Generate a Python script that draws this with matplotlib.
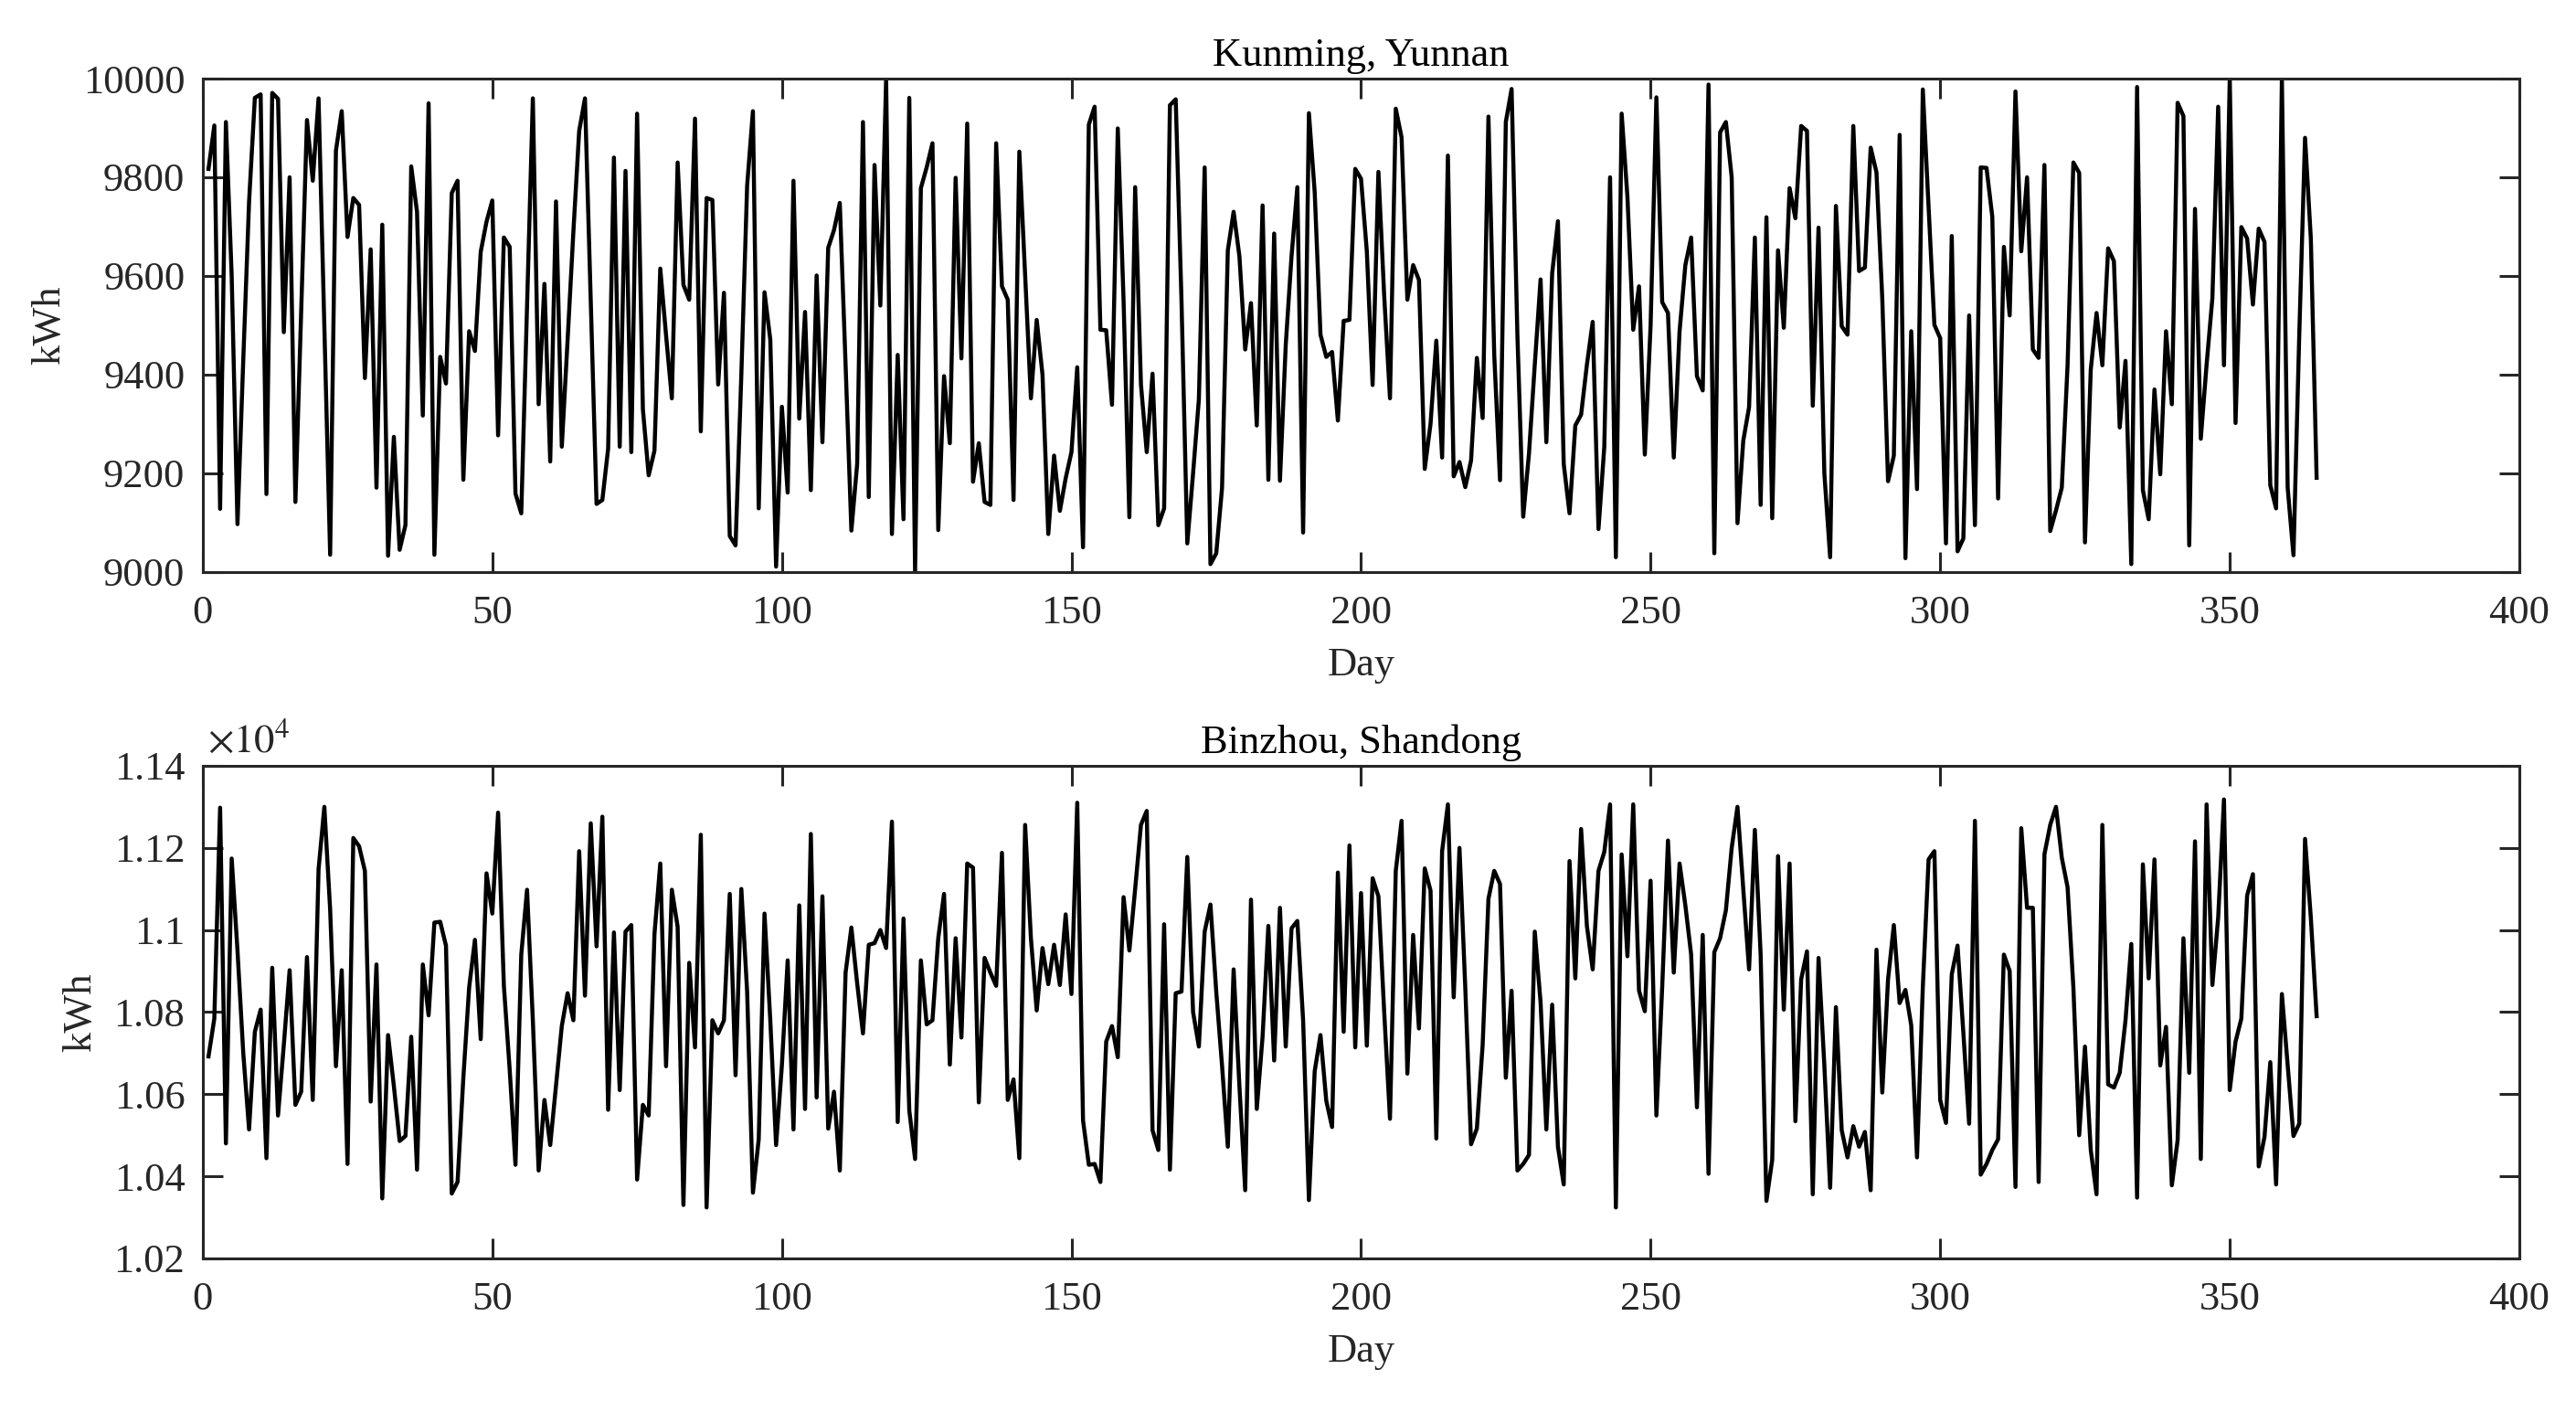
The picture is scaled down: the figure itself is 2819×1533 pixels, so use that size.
"""Daily electricity load for two sites, one panel per site."""

import matplotlib
matplotlib.use("Agg")
import matplotlib.pyplot as plt
from matplotlib.ticker import FuncFormatter, MultipleLocator
import numpy as np

# Kunming, Yunnan: daily load (kWh), days 1..365
kunming_kwh = [
    9817, 9905, 9128, 9912, 9600, 9097, 9430, 9750, 9961, 9968,
    9158, 9971, 9959, 9486, 9800, 9142, 9530, 9916, 9793, 9960,
    9500, 9035, 9854, 9934, 9679, 9758, 9744, 9393, 9654, 9171,
    9704, 9033, 9274, 9045, 9095, 9822, 9730, 9317, 9950, 9035,
    9436, 9382, 9768, 9793, 9187, 9488, 9448, 9649, 9710, 9753,
    9277, 9678, 9659, 9159, 9119, 9540, 9960, 9340, 9584, 9224,
    9751, 9254, 9470, 9690, 9894, 9960, 9550, 9138, 9146, 9250,
    9840, 9254, 9813, 9243, 9929, 9330, 9196, 9246, 9615, 9480,
    9352, 9830, 9582, 9552, 9919, 9285, 9758, 9754, 9380, 9566,
    9073, 9054, 9400, 9783, 9934, 9129, 9567, 9471, 9011, 9335,
    9161, 9793, 9311, 9527, 9166, 9601, 9263, 9657, 9693, 9748,
    9420, 9084, 9219, 9912, 9152, 9825, 9540, 10000, 9077, 9440,
    9107, 9961, 9000, 9778, 9820, 9869, 9085, 9397, 9261, 9799,
    9433, 9909, 9183, 9261, 9142, 9136, 9869, 9579, 9552, 9146,
    9852, 9600, 9352, 9511, 9400, 9077, 9236, 9124, 9190, 9243,
    9415, 9050, 9907, 9943, 9491, 9490, 9339, 9899, 9550, 9111,
    9780, 9380, 9243, 9402, 9095, 9129, 9946, 9958, 9550, 9058,
    9200, 9350, 9820, 9016, 9038, 9170, 9652, 9730, 9640, 9451,
    9545, 9297, 9743, 9187, 9686, 9185, 9460, 9640, 9780, 9080,
    9930, 9770, 9481, 9436, 9446, 9307, 9509, 9511, 9817, 9797,
    9650, 9379, 9811, 9560, 9352, 9939, 9881, 9552, 9622, 9592,
    9209, 9300, 9469, 9232, 9844, 9194, 9223, 9172, 9226, 9434,
    9312, 9923, 9440, 9186, 9912, 9979, 9480, 9112, 9240, 9420,
    9593, 9263, 9605, 9711, 9219, 9119, 9297, 9319, 9420, 9507,
    9087, 9253, 9800, 9030, 9929, 9760, 9491, 9579, 9238, 9500,
    9962, 9547, 9525, 9232, 9488, 9622, 9678, 9397, 9368, 9988,
    9038, 9891, 9912, 9800, 9099, 9266, 9334, 9678, 9136, 9719,
    9109, 9652, 9495, 9778, 9717, 9904, 9894, 9337, 9698, 9200,
    9030, 9742, 9498, 9481, 9904, 9610, 9617, 9860, 9810, 9555,
    9184, 9236, 9886, 9028, 9488, 9168, 9978, 9740, 9501, 9474,
    9058, 9681, 9042, 9068, 9520, 9095, 9820, 9819, 9720, 9149,
    9659, 9520, 9974, 9650, 9800, 9451, 9434, 9825, 9083, 9125,
    9171, 9420, 9830, 9809, 9060, 9410, 9525, 9419, 9656, 9630,
    9293, 9428, 9016, 9983, 9166, 9107, 9370, 9198, 9488, 9340,
    9951, 9924, 9054, 9736, 9270, 9420, 9555, 9943, 9419, 10000,
    9302, 9699, 9676, 9542, 9696, 9669, 9176, 9129, 10000, 9171,
    9034, 9480, 9880, 9676, 9191,
]

# Binzhou, Shandong: daily load (kWh), days 1..365
binzhou_kwh = [
    10692, 10784, 11298, 10480, 11174, 10950, 10700, 10514, 10752, 10806,
    10444, 10908, 10548, 10720, 10902, 10574, 10606, 10934, 10586, 11148,
    11300, 11050, 10668, 10902, 10430, 11224, 11204, 11144, 10582, 10916,
    10346, 10744, 10620, 10486, 10498, 10740, 10416, 10916, 10792, 11018,
    11020, 10962, 10358, 10386, 10640, 10860, 10976, 10734, 11138, 11040,
    11286, 10864, 10660, 10428, 10940, 11098, 10780, 10414, 10586, 10476,
    10620, 10766, 10846, 10780, 11192, 10840, 11260, 10960, 11276, 10562,
    10994, 10610, 10996, 11012, 10392, 10574, 10548, 10990, 11162, 10668,
    11098, 11008, 10330, 10920, 10714, 11232, 10324, 10780, 10748, 10780,
    11088, 10646, 11100, 10850, 10360, 10490, 11040, 10780, 10476, 10670,
    10926, 10514, 11060, 10564, 11234, 10592, 11082, 10516, 10606, 10414,
    10896, 11006, 10870, 10748, 10964, 10968, 11000, 10956, 11264, 10532,
    11028, 10560, 10442, 10926, 10770, 10780, 10980, 11088, 10672, 10980,
    10738, 11162, 11152, 10580, 10932, 10896, 10864, 11188, 10586, 10636,
    10444, 11256, 10980, 10804, 10956, 10868, 10964, 10866, 11038, 10844,
    11310, 10536, 10428, 10430, 10386, 10728, 10766, 10690, 11080, 10950,
    11100, 11256, 11290, 10512, 10464, 11014, 10416, 10846, 10850, 11178,
    10800, 10716, 10996, 11062, 10850, 10670, 10472, 10904, 10620, 10366,
    11074, 10564, 10740, 11010, 10682, 11054, 10716, 11004, 11022, 10780,
    10342, 10656, 10744, 10584, 10520, 11140, 10752, 11206, 10714, 11090,
    10718, 11126, 11082, 10800, 10540, 11144, 11266, 10650, 10988, 10760,
    11150, 11096, 10492, 11192, 11306, 10836, 11200, 10860, 10478, 10516,
    10720, 11076, 11144, 11112, 10640, 10852, 10414, 10430, 10452, 10996,
    10824, 10514, 10818, 10472, 10380, 11168, 10882, 11246, 11010, 10904,
    11144, 11190, 11306, 10324, 11184, 10936, 11306, 10852, 10802, 11120,
    10548, 10860, 11218, 10896, 11162, 11060, 10940, 10568, 10988, 10406,
    10946, 10980, 11048, 11200, 11300, 11100, 10904, 11244, 10940, 10340,
    10440, 11180, 10806, 11162, 10534, 10880, 10948, 10356, 10932, 10670,
    10372, 10812, 10512, 10446, 10522, 10472, 10508, 10366, 10952, 10604,
    10880, 11012, 10822, 10854, 10768, 10446, 10860, 11172, 11192, 10586,
    10530, 10892, 10962, 10750, 10528, 11266, 10404, 10430, 10464, 10490,
    10940, 10900, 10374, 11248, 11054, 11054, 10386, 11184, 11256, 11300,
    11176, 11104, 10860, 10500, 10716, 10464, 10356, 11256, 10624, 10616,
    10652, 10780, 10966, 10348, 11160, 10882, 11172, 10670, 10764, 10378,
    10488, 10980, 10652, 11216, 10442, 11306, 10866, 11030, 11318, 10610,
    10728, 10784, 11084, 11136, 10424, 10496, 10678, 10380, 10844, 10670,
    10498, 10528, 11222, 11030, 10790,
]

assert len(kunming_kwh) == 365 and len(binzhou_kwh) == 365
days = np.arange(1, len(kunming_kwh) + 1)

AXIS_COLOR = "#262626"
FONT_SIZE = 16

plt.rcParams["font.family"] = ["Liberation Serif", "DejaVu Serif"]
plt.rcParams["mathtext.fontset"] = "stix"
plt.rcParams["font.size"] = FONT_SIZE

fig = plt.figure(figsize=(14.095, 7.665), dpi=200)
fig.patch.set_facecolor("white")

ax_top = fig.add_axes([0.0787, 0.5917, 0.8993, 0.3522])
ax_bot = fig.add_axes([0.0787, 0.1018, 0.8993, 0.3516])


def style_axes(ax, title):
    ax.set_xlim(0, 400)
    ax.xaxis.set_major_locator(MultipleLocator(50))
    ax.set_title(title, fontsize=FONT_SIZE, color="black", pad=5)
    ax.set_xlabel("Day", fontsize=FONT_SIZE, color=AXIS_COLOR, labelpad=6)
    ax.set_ylabel("kWh", fontsize=FONT_SIZE, color=AXIS_COLOR, labelpad=6)
    for spine in ax.spines.values():
        spine.set_color(AXIS_COLOR)
        spine.set_linewidth(1.1)
    ax.tick_params(direction="in", length=8, width=1.1, colors=AXIS_COLOR,
                   top=True, right=True, labelsize=FONT_SIZE)
    ax.tick_params(axis="x", pad=9)
    ax.tick_params(axis="y", pad=7)


# Top panel
ax_top.plot(days, kunming_kwh, color="black", linewidth=1.6)
ax_top.set_ylim(9000, 10000)
ax_top.yaxis.set_major_locator(MultipleLocator(200))
style_axes(ax_top, "Kunming, Yunnan")

# Bottom panel
ax_bot.plot(days, binzhou_kwh, color="black", linewidth=1.6)
ax_bot.set_ylim(10200, 11400)
ax_bot.yaxis.set_major_locator(MultipleLocator(200))
ax_bot.yaxis.set_major_formatter(FuncFormatter(lambda v, p: f"{v / 1e4:g}"))
style_axes(ax_bot, "Binzhou, Shandong")
ax_bot.text(0.002, 1.012, r"$\times10^{4}$", transform=ax_bot.transAxes,
            ha="left", va="bottom", fontsize=FONT_SIZE, color=AXIS_COLOR)

fig.savefig("out.png", dpi=200, facecolor="white")
plt.close(fig)
